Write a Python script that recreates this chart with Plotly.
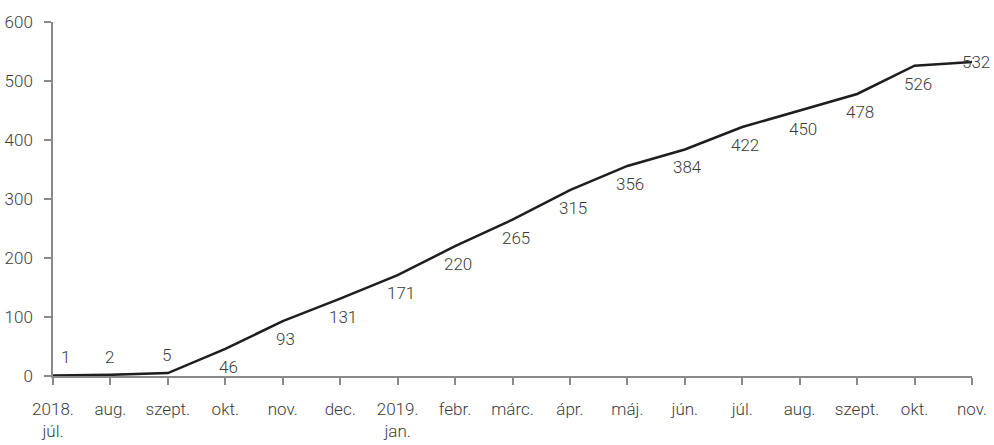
import plotly.graph_objects as go

months = ["2018.<br>júl.", "aug.", "szept.", "okt.", "nov.", "dec.", "2019.<br>jan.", "febr.",
          "márc.", "ápr.", "máj.", "jún.", "júl.", "aug.", "szept.", "okt.", "nov."]
values = [1, 2, 5, 46, 93, 131, 171, 220, 265, 315, 356, 384, 422, 450, 478, 526, 532]
y_ticks = [0, 100, 200, 300, 400, 500, 600]

x = list(range(len(months)))

font_family = "Roboto, sans-serif"
text_color = "#3c3c3c"
axis_color = "#8a8a8a"
label_font = dict(family=font_family, size=17, color=text_color, weight=300)

fig = go.Figure()
fig.add_trace(go.Scatter(
    x=x,
    y=values,
    mode="lines",
    line=dict(color="#1e1e1e", width=2.5),
    cliponaxis=False,
    hoverinfo="x+y",
))

# data labels: first three above the line, last one on top of its point, rest below
for i, v in enumerate(values):
    if i == 0:
        shift = (12, 18)
    elif i < 3:
        shift = (-1, 18)
    elif i == len(values) - 1:
        shift = (4, 0)
    else:
        shift = (3, -18)
    fig.add_annotation(
        x=x[i], y=v, text=str(v), showarrow=False,
        xshift=shift[0], yshift=shift[1],
        font=label_font,
    )

fig.update_layout(
    width=994,
    height=445,
    margin=dict(l=53, r=22, t=22, b=69),
    plot_bgcolor="white",
    paper_bgcolor="white",
    showlegend=False,
    font=dict(family=font_family, size=17, color=text_color, weight=300),
)
fig.update_xaxes(
    range=[0, len(months) - 1],
    tickvals=x,
    ticktext=months,
    automargin=False,
    showgrid=False,
    zeroline=False,
    showline=True,
    linecolor=axis_color,
    linewidth=1.5,
    ticks="outside",
    ticklen=7,
    tickcolor=axis_color,
    tickwidth=1.5,
    ticklabelstandoff=10,
    tickfont=label_font,
)
fig.update_yaxes(
    range=[0, 600],
    tickvals=y_ticks,
    automargin=False,
    showgrid=False,
    zeroline=False,
    showline=True,
    linecolor=axis_color,
    linewidth=1.5,
    ticks="outside",
    ticklen=7,
    tickcolor=axis_color,
    tickwidth=1.5,
    ticklabelstandoff=8,
    tickfont=label_font,
)

# the page body has a default margin that would push the figure off the window
fig.write_html("out.html", config={"displayModeBar": False},
               post_script="document.body.style.margin = '0';")
